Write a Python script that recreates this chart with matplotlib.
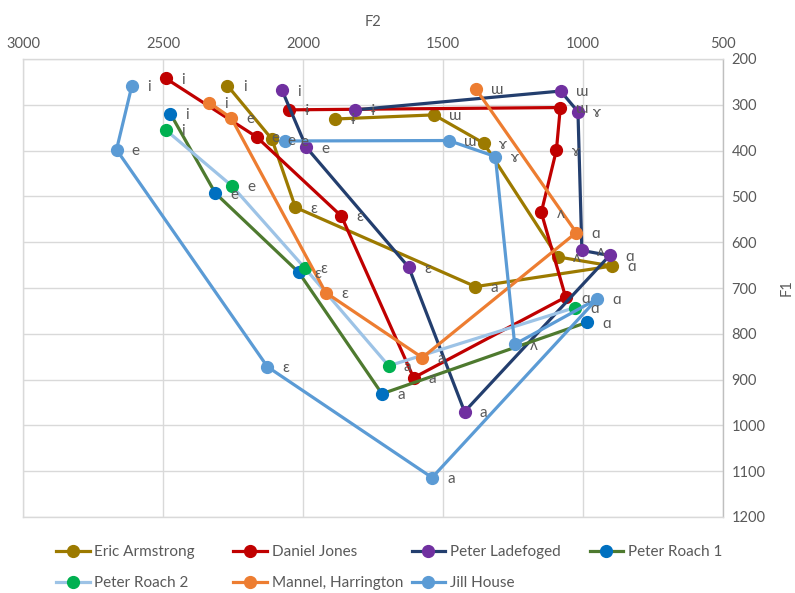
import matplotlib.pyplot as plt
from matplotlib.lines import Line2D

plt.rcParams['font.family'] = ['Lato', 'DejaVu Sans']

# vowel symbols per speaker/source, F2 and F1 values (Hz)
eric_vowels = ['i', 'e', 'ɛ', 'a', 'ɑ', 'ʌ', 'ɤ', 'ɯ', 'ɨ']
eric_f2 = [2270, 2111, 2027, 1384, 896, 1091, 1354, 1532, 1884]
eric_f1 = [258, 375, 524, 697, 652, 632, 384, 322, 331]

jones_vowels = ['i', 'e', 'ɛ', 'a', 'ɑ', 'ʌ', 'ɤ', 'ɯ', 'ɨ']
jones_f2 = [2491, 2166, 1863, 1605, 1062, 1149, 1095, 1081, 2050]
jones_f1 = [242, 370, 543, 896, 720, 535, 399, 306, 311]

ladefoged_vowels = ['i', 'e', 'ɛ', 'a', 'ɑ', 'ʌ', 'ɤ', 'ɯ', 'ɨ']
ladefoged_f2 = [2075, 1988, 1622, 1423, 905, 1004, 1018, 1080, 1813]
ladefoged_f1 = [268, 393, 655, 970, 629, 618, 315, 270, 311]

roach1_vowels = ['i', 'e', 'ɛ', 'a', 'ɑ']
roach1_f2 = [2474, 2313, 2015, 1718, 986]
roach1_f1 = [319, 493, 666, 931, 775]

roach2_vowels = ['i', 'e', 'ɛ', 'a', 'ɑ']
roach2_f2 = [2490, 2254, 1994, 1694, 1030]
roach2_f1 = [355, 477, 656, 870, 743]

mannel_vowels = ['i', 'e', 'ɛ', 'a', 'ɑ', 'ɯ']
mannel_f2 = [2336, 2256, 1919, 1574, 1024, 1383]
mannel_f1 = [295, 329, 710, 852, 579, 265]

house_vowels = ['i', 'e', 'ɛ', 'a', 'ɑ', 'ʌ', 'ɤ', 'ɯ', 'e']
house_f2 = [2611, 2666, 2127, 1539, 950, 1244, 1313, 1480, 2063]
house_f1 = [258, 398, 872, 1114, 724, 823, 413, 378, 379]

names = ['Eric Armstrong', 'Daniel Jones', 'Peter Ladefoged', 'Peter Roach 1',
         'Peter Roach 2', 'Mannel, Harrington', 'Jill House']
line_colors = ['#9C7A00', '#C00000', '#233E6E', '#4E7A2F', '#9DC3E6', '#ED7D31', '#5B9BD5']
marker_colors = ['#9C7A00', '#C00000', '#7030A0', '#0070C0', '#00B050', '#ED7D31', '#5B9BD5']

series = [
    (eric_f2, eric_f1, eric_vowels),
    (jones_f2, jones_f1, jones_vowels),
    (ladefoged_f2, ladefoged_f1, ladefoged_vowels),
    (roach1_f2, roach1_f1, roach1_vowels),
    (roach2_f2, roach2_f1, roach2_vowels),
    (mannel_f2, mannel_f1, mannel_vowels),
    (house_f2, house_f1, house_vowels),
]

grey = '#595959'

fig = plt.figure(figsize=(7.95, 5.93), dpi=100)
ax = fig.add_axes([23 / 795, 1 - 517 / 593, 700 / 795, 458 / 593])

handles = []
for (f2, f1, vowels), name, lc, mc in zip(series, names, line_colors, marker_colors):
    ax.plot(f2, f1, color=lc, linewidth=2.3, marker='o', markersize=8.5,
            markerfacecolor=mc, markeredgecolor=mc, zorder=3)
    for x, y, v in zip(f2, f1, vowels):
        ax.annotate(v, (x, y), xytext=(11, -1), textcoords='offset points',
                    ha='left', va='center', fontsize=11, color=grey, zorder=4)
    handles.append(Line2D([], [], color=lc, linewidth=2.3, marker='o', markersize=8.5,
                          markerfacecolor=mc, markeredgecolor=mc, label=name))

ax.set_xlim(3000, 500)
ax.set_ylim(1200, 200)
ax.set_xticks(range(3000, 499, -500))
ax.set_yticks(range(200, 1201, 100))
ax.xaxis.tick_top()
ax.xaxis.set_label_position('top')
ax.yaxis.tick_right()
ax.yaxis.set_label_position('right')
ax.tick_params(length=0, labelsize=10.5, labelcolor=grey, pad=6)
ax.grid(True, color='#D9D9D9', linewidth=1)
ax.set_axisbelow(True)
for side, spine in ax.spines.items():
    spine.set_color('#D9D9D9')
    spine.set_linewidth(1)
ax.spines['right'].set_color('#BFBFBF')

ax.set_xlabel('F2', fontsize=10.5, color=grey, labelpad=8)
ax.set_ylabel('F1', fontsize=10.5, color=grey, labelpad=10)

# Excel-style legend: 4 equal-width columns, filled row by row
col_x = [0.063, 0.286, 0.510, 0.734]
for c in range(4):
    col_handles = handles[c::4]
    leg = fig.legend(handles=col_handles, loc='upper left',
                     bbox_to_anchor=(col_x[c], 0.091), frameon=False, fontsize=11,
                     labelcolor=grey, handlelength=2.2, handletextpad=0.3,
                     labelspacing=1.1, borderaxespad=0)

fig.savefig('out.png', dpi=100)
